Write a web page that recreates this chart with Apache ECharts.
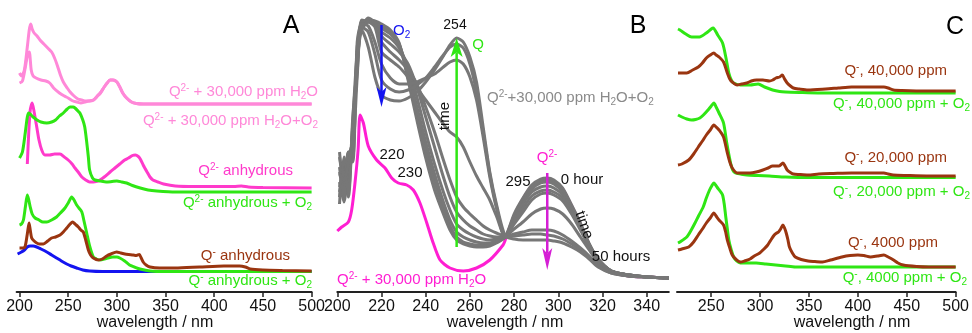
<!DOCTYPE html>
<html>
<head>
<meta charset="utf-8">
<script src="https://cdn.jsdelivr.net/npm/echarts@6/dist/echarts.min.js"></script>
<style>
  html, body { margin: 0; padding: 0; background: #fff; }
  #chart { width: 972px; height: 333px; }
</style>
</head>
<body>
<div id="chart"></div>
<script>
// ---------- panel A : offset spectra [wavelength nm, offset absorbance a.u.] ----------
const aH2O = [[200,209],[203,211],[206,225],[208,236],[210,240],[212,222],[214,216],[217,214],[222,212],[227,211],[231,209],[235,204],[241,199],[246,196],[250,194],[255,191],[259,190],[263,189],[267,190],[271,191],[276,192],[280,196],[283,199],[287,205],[290,209],[293,212],[296,212],[300,210],[303,205],[306,199],[310,194],[315,190],[320,188.5],[327,188],[400,188],[500,188]];
const aH2OO2 = [[200,219],[202,216],[205,222],[208,245],[210,262],[211.5,268],[213,263],[215,259],[218,256],[221,252],[225,248],[229,244],[233,240],[236,234],[239,226],[242,217],[245,210],[249,204],[252,200],[256,196],[260,193],[264,192],[268,191],[272,191],[276,192],[280,196],[283,199],[287,205],[290,209],[293,212],[296,212],[300,210],[303,205],[306,199],[310,194],[315,190],[320,188.5],[327,188],[400,188],[500,188]];
const aQ2anh = [[208,128],[209.5,160],[211,182],[213,189],[215,180],[217.7,165],[220,152],[222.8,142],[226,137],[231,137],[236,138],[241.6,138],[246,135],[250,132],[254,128],[257,124],[261,119],[264,115],[268,112],[272,110],[276,110],[281,111],[287,115],[293,120],[298,124],[303,128],[308,132],[312,134],[316,136.5],[319,137],[322,135.5],[324,133],[327,127],[331,120],[334,115],[337,112],[342,110],[348,108],[360,106],[380,105.5],[420,105.5],[428,106],[435,105],[450,104.5],[500,104]];
const aQ2anhO2 = [[200,134],[203,140],[206,160],[208,175],[209.5,179],[212,177],[214,175],[218,172],[222,170],[228,169],[233,170],[237,172],[241,176],[245,179],[249,183],[252,185],[255,185],[257,184],[260,181],[262,179],[265,172],[267,165],[269,150],[270.7,135],[272,122],[275,114],[277.5,112],[283,111],[289,110],[295,110.5],[300,111],[305,110],[310,109],[316,106.5],[324,104],[332,102],[341,101],[360,100],[500,100]];
const aQanh = [[200,44],[203,44],[205.6,45],[208,58],[209.8,69],[211,62],[212.5,54],[215,51],[217.7,49],[221,48],[224.5,48],[229,51],[233,54],[237,55],[241.6,57],[245,60],[248.5,64],[252,68],[254.6,70],[257,68],[260.4,65],[263,62],[265.5,60],[268,52],[270.7,42],[273,37],[275.8,34],[281,32],[285,33],[289.5,36],[294,38],[299.8,40],[304,39],[308.3,38],[312,37.5],[316.8,37],[320,36.5],[323,37.5],[325,34],[327,30],[330,27],[334,25],[344,24],[360,24],[385,25],[410,26],[426,26],[432,25],[437,23],[450,22],[470,21.5],[500,21]];
const aQanhO2 = [[200,67],[202,68],[204,72],[206,85],[208,97],[209.5,92],[211,85],[213,78],[216,74],[220,72],[224,70],[228,70],[233,72],[238,75],[242,79],[246.7,84],[250,89],[253.6,95],[256,92],[258.7,87],[261,84],[264,80],[266,72],[269,59],[272,46],[275.8,35],[279,33],[282.6,32],[289,33.5],[296,35],[300,35],[303,34],[308,31],[313,27],[318,25],[323.7,23],[334,21],[350,20.5],[500,20.5]];
const aBlue = [[198,38],[200,39],[202,40],[205,42],[208,45],[210.8,46],[214,46],[217.7,45],[222,43],[228,40],[233,37],[238,34],[243,31],[248.5,28],[253,26],[258.7,24],[265,22],[272,21],[285,20.5],[500,20.5]];

// ---------- panel B : Q2- + 30,000 ppm H2O + O2, 0 h -> 50 h ----------
const wlB = [201,203,205,207,209,211,214,217,220,224,228,232,236,240,244,248,251,254,257,260,263,266,269,272,276,280,284,288,292,295,298,302,306,310,314,318,324,332,340,350];
const gray0 = [120,100,135,150,235,268,272,271,268,262,249,212,172,134,102,78,62,52,48,46,45,45,46,49,55,78,94,107,113,114,112,104,87,69,48,33,21,17,15,14];
const gray1 = [95,130,115,165,220,270,271,270,266,260,248,215,178,142,110,84,66,55,50,48,47,47,48,50,55,76,92,105,111,112,110,102,86,68,48,33,21,17,15,14];
const gray2 = [135,110,140,130,245,264,274,270,264,258,247,220,185,150,118,90,72,60,55,52,50,49,49,51,55,74,90,103,109,110,108,100,85,67,47,33,21,17,15,14];
const gray3 = [110,90,125,155,228,272,270,268,260,254,244,225,195,160,128,100,82,68,62,58,55,53,52,53,55,72,88,100,105,106,104,97,83,66,47,32,21,17,15,14];
const gray4 = [100,125,95,170,240,266,272,270,256,248,240,228,205,175,145,115,95,80,72,66,62,58,56,55,55,70,84,96,101,102,100,94,80,64,46,32,21,17,15,14];
const gray5 = [140,105,130,140,215,271,271,268,250,240,232,222,208,185,160,132,112,95,85,78,72,66,62,59,56,68,80,92,98,99,97,91,78,62,45,32,21,17,15,14];
const gray6 = [88,135,110,160,232,262,270,265,240,232,225,215,204,192,180,168,160,155,145,130,116,104,92,76,56,63,70,78,83,84,83,78,68,55,42,30,20,16,15,14];
const gray7 = [125,95,140,135,250,268,266,250,228,214,208,208,210,214,218,225,230,232,228,215,192,155,115,84,55,58,60,62,62,62,61,57,51,44,36,27,20,16,15,14];
const gray8 = [105,120,100,175,225,265,260,238,212,203,200,202,207,214,225,237,245,248,244,228,200,160,118,86,55,56,57,58,58,57,56,53,48,42,34,26,19,16,15,14];
const gray9 = [118,112,128,148,238,262,245,215,197,192,191,194,200,210,222,236,247,254,250,235,210,165,120,88,56,53,52,52,52,52,51,49,45,40,33,25,19,16,15,14];
const grayCurves = [gray0, gray1, gray2, gray3, gray4, gray5, gray6, gray7, gray8, gray9];
const bH2O = [[200,61],[202,65],[205,70],[206.5,82],[208,109],[209.4,142],[210.3,177],[211.8,169],[214,146],[217.8,132],[221.6,124],[224.6,114],[227.6,109],[231.4,107],[234.4,102],[237.4,89],[240.5,69],[243.4,49],[246.5,32],[251,24],[257,21],[263,24],[269,32],[275,47],[276,52],[280,76],[284,93],[288,106],[292,112],[295,113],[298,111],[302,103],[306,86],[310,68],[314,47],[318,32],[324,20],[332,16],[340,15],[350,14]];
// arrows [wavelength, from, to]
const arrowO2 = [220, 267, 185];
const arrowQ = [254, 45, 254];
const arrowQ2 = [295, 119, 22];

// ---------- panel C ----------
const c40kO2 = [[216,263],[218,262],[224,258],[230,255],[238,255],[245,259],[250,263],[252,264],[256.6,257],[261.6,249],[264.9,235],[268,219],[271,211],[273,209],[279.8,207],[289.7,207],[298,208],[304.6,205],[312.8,202],[320,200.5],[326,200],[340,199.5],[359,199],[500,199]];
const c40k = [[216,219],[220,219],[225,219],[231,222],[236.8,225],[241,229],[245,234],[249,237],[252.7,239],[255,237],[258,235],[262.6,230],[266.5,219],[269,213],[271.5,210],[276.5,207],[281,208],[286.4,209],[291,211],[296.3,212],[302.9,212],[309.5,211],[313,212],[316.2,214],[320,215],[322.7,217],[325,213],[327.7,209],[331,206],[334,204],[340,203],[349,202],[367,203],[380,204],[393.5,205],[410,205],[426.6,205],[431,204],[436.5,202],[445,201.5],[470,201],[500,201]];
const c20kO2 = [[216,177],[220,175],[225,173],[230,172],[234,172.5],[238.4,174],[242,177],[246.7,182],[250,186],[252.7,189],[255,185],[258,179],[262.6,169],[265.9,149],[269.8,129],[272,122],[274.8,119],[280,118],[286.4,117],[298,116.5],[309.5,116],[326,115],[350,114.5],[500,114.5]];
const c20k = [[216,127],[220,128],[227,132],[232,138],[236.8,145],[241,151],[245,157],[249,162],[252.7,167],[255,165],[258,162],[262.6,155],[266.5,139],[269,130],[271.5,124],[276.5,119],[282,119],[289.7,119],[296,120],[302.9,122],[308,124],[312.8,126],[316,126],[319.4,126],[323.4,129],[325.5,126],[327.7,122],[331,119.5],[334,118],[340,117.5],[349,117],[360,118],[375,118.5],[393.5,119],[426.6,119],[431,118],[436,117],[450,116.5],[470,116],[500,116]];
const c4kO2 = [[216,49],[218,50],[225,55],[229,61],[233.4,69],[237,76],[241.8,85],[245,94],[248.3,102],[250.5,106],[252.7,109],[254.5,107],[256.6,104],[259,101],[261.6,97],[263.3,88],[264.9,75],[266.5,63],[268,52],[270.5,42],[273,35],[276,31],[279.8,29],[296,29],[306,28],[316,27],[326,26],[336,25],[500,25]];
const c4k = [[216,42],[220,43],[227,45],[232,50],[236.8,57],[241,63],[245,69],[249,74],[252.7,79],[255,76],[258,72],[262.6,67],[264.5,61],[266.5,52],[269,44],[271.5,37],[275,33],[279.8,30],[284,31],[289.7,33],[294,36],[299.6,39],[304,43],[307.8,47],[311,52],[314.5,57],[317,59],[318.8,60],[321,63],[323.4,67],[325,64],[326.7,59],[328.5,52],[330,45],[333,39],[336,35],[342,32.5],[349,31],[356,30.5],[363.8,30],[372,32],[383.6,35],[392,36.5],[400,37],[406,36.5],[413,35],[420,36],[426.6,37],[431,35],[436.5,32],[441,29],[446.4,27],[460,25.5],[472.6,25],[500,25]];

// ---------- ticks ----------
const ticksA = [200, 250, 300, 350, 400, 450, 500];
const ticksB = [200, 220, 240, 260, 280, 300, 320, 340];
const ticksC = [250, 300, 350, 400, 450, 500];

const FONT = '"Liberation Sans", Arial, sans-serif';
const LIGHTPINK = '#ff88d8';
const MAGENTA = '#ff3acb';
const MAGENTA_B = '#ff1ed2';
const GREEN = '#2fe614';
const BROWN = '#9a3510';
const BLUE = '#1414f0';
const GRAY = '#777777';

const chart = echarts.init(document.getElementById('chart'), null, { renderer: 'canvas' });

function xAxis(idx, min, max, ticks) {
  return {
    type: 'value', gridIndex: idx, min: min, max: max,
    axisLine: { show: true, onZero: false, lineStyle: { color: '#222', width: 2 } },
    axisTick: { show: true, length: 5, customValues: ticks, lineStyle: { color: '#222', width: 1.5 } },
    axisLabel: { customValues: ticks, color: '#111', fontSize: 16, fontFamily: FONT, margin: 7 },
    splitLine: { show: false }
  };
}
function yAxis(idx) {
  return { type: 'value', gridIndex: idx, min: 0, max: 292, show: false };
}
function line(idx, data, color, z) {
  return {
    type: 'line', xAxisIndex: idx, yAxisIndex: idx, data: data, showSymbol: false,
    smooth: 0.25, z: z || 2, silent: true,
    lineStyle: { color: color, width: 3 }
  };
}

const series = [
  line(0, aH2OO2, LIGHTPINK), line(0, aH2O, LIGHTPINK),
  line(0, aQ2anh, MAGENTA), line(0, aQ2anhO2, GREEN, 3),
  line(0, aBlue, BLUE), line(0, aQanhO2, GREEN, 3), line(0, aQanh, BROWN, 4),
  line(1, bH2O, MAGENTA_B, 1)
];
grayCurves.forEach(function (g) {
  series.push(line(1, wlB.map(function (w, i) { return [w, g[i]]; }), GRAY, 2));
});
series.push(line(2, c40kO2, GREEN), line(2, c40k, BROWN, 3),
            line(2, c20kO2, GREEN), line(2, c20k, BROWN, 3),
            line(2, c4kO2, GREEN), line(2, c4k, BROWN, 3));

chart.setOption({
  animation: false,
  grid: [
    { left: 16.6, top: 0, width: 295, height: 292 },
    { left: 337.3, top: 0, width: 331.5, height: 292 },
    { left: 677, top: 0, width: 287, height: 292 }
  ],
  xAxis: [xAxis(0, 197, 500, ticksA), xAxis(1, 200, 350, ticksB), xAxis(2, 215, 500, ticksC)],
  yAxis: [yAxis(0), yAxis(1), yAxis(2)],
  series: series
});

// ---------- annotations ----------
function rich(color, size) {
  size = size || 15;
  return {
    t: { fontSize: size, lineHeight: 18, fontFamily: FONT, fill: color },
    sp: { fontSize: 10, lineHeight: 10, fontFamily: FONT, fill: color, verticalAlign: 'top' },
    sb: { fontSize: 10, lineHeight: 10, fontFamily: FONT, fill: color, verticalAlign: 'bottom' }
  };
}
function txt(x, y, text, color, align, size, rot) {
  return {
    type: 'text', x: x, y: y, rotation: rot || 0, z: 20, silent: true,
    style: { text: text, rich: rich(color, size), fill: color, align: align || 'left', verticalAlign: 'middle',
             font: (size || 15) + 'px ' + FONT }
  };
}
const texts = [
  // panel A
  txt(291, 26, 'A', '#000', 'center', 25),
  txt(318, 92, '{t|Q}{sp|2-}{t| + 30,000 ppm H}{sb|2}{t|O}', LIGHTPINK, 'right'),
  txt(318, 121, '{t|Q}{sp|2-}{t| + 30,000 ppm H}{sb|2}{t|O+O}{sb|2}', LIGHTPINK, 'right'),
  txt(293, 171, '{t|Q}{sp|2-}{t| anhydrous}', MAGENTA, 'right'),
  txt(312, 203, '{t|Q}{sp|2-}{t| anhydrous + O}{sb|2}', GREEN, 'right'),
  txt(290, 256, '{t|Q}{sp|-}{t| anhydrous}', BROWN, 'right'),
  txt(312, 281, '{t|Q}{sp|-}{t| anhydrous + O}{sb|2}', GREEN, 'right'),
  txt(155, 323, '{t|wavelength / nm}', '#111', 'center', 16),
  // panel B
  txt(638, 26, 'B', '#000', 'center', 25),
  txt(393, 31, '{t|O}{sb|2}', BLUE, 'left'),
  txt(455, 25, '{t|254}', '#111', 'center', 14),
  txt(478, 45, '{t|Q}', GREEN, 'center'),
  txt(487, 98, '{t|Q}{sp|2-}{t|+30,000 ppm H}{sb|2}{t|O+O}{sb|2}', '#8a8a8a', 'left'),
  txt(445, 116, '{t|time}', '#111', 'center', 15, Math.PI / 2),
  txt(392, 155, '{t|220}', '#111', 'center', 15),
  txt(410, 173, '{t|230}', '#111', 'center', 15),
  txt(547, 158, '{t|Q}{sp|2-}', MAGENTA_B, 'center'),
  txt(518, 182, '{t|295}', '#111', 'center', 15),
  txt(582, 180, '{t|0 hour}', '#111', 'center', 15),
  txt(584, 225, '{t|time}', '#111', 'center', 15, -1.22),
  txt(621, 257, '{t|50 hours}', '#111', 'center', 15),
  txt(337, 280, '{t|Q}{sp|2-}{t| + 30,000 ppm H}{sb|2}{t|O}', MAGENTA_B, 'left'),
  txt(505, 323, '{t|wavelength / nm}', '#111', 'center', 16),
  // panel C
  txt(955, 27, 'C', '#000', 'center', 25),
  txt(947, 71, '{t|Q}{sp|-}{t|, 40,000 ppm}', BROWN, 'right'),
  txt(970, 104, '{t|Q}{sp|-}{t|, 40,000 ppm + O}{sb|2}', GREEN, 'right'),
  txt(947, 158, '{t|Q}{sp|-}{t|, 20,000 ppm}', BROWN, 'right'),
  txt(970, 192, '{t|Q}{sp|-}{t|, 20,000 ppm + O}{sb|2}', GREEN, 'right'),
  txt(938, 243, '{t|Q}{sp|-}{t|, 4000 ppm}', BROWN, 'right'),
  txt(967, 278, '{t|Q}{sp|-}{t|, 4000 ppm + O}{sb|2}', GREEN, 'right'),
  txt(852, 323, '{t|wavelength / nm}', '#111', 'center', 16)
];

function arrow(a, color, headW, headL) {
  const p0 = chart.convertToPixel({ xAxisIndex: 1, yAxisIndex: 1 }, [a[0], a[1]]);
  const p1 = chart.convertToPixel({ xAxisIndex: 1, yAxisIndex: 1 }, [a[0], a[2]]);
  const dir = p1[1] > p0[1] ? 1 : -1;
  const notch = p1[1] - dir * headL * 0.75;
  return [
    { type: 'line', z: 15, silent: true, shape: { x1: p0[0], y1: p0[1], x2: p1[0], y2: notch },
      style: { stroke: color, lineWidth: 2.5 } },
    { type: 'polygon', z: 15, silent: true,
      shape: { points: [[p1[0] - headW / 2, p1[1] - dir * headL], [p1[0], p1[1]], [p1[0] + headW / 2, p1[1] - dir * headL], [p1[0], notch]] },
      style: { fill: color } }
  ];
}
const arrows = [].concat(
  arrow(arrowO2, BLUE, 10, 20),
  arrow(arrowQ, GREEN, 12, 19),
  arrow(arrowQ2, '#d51fd5', 10, 22)
);
chart.setOption({ graphic: texts.concat(arrows) });
</script>
</body>
</html>
